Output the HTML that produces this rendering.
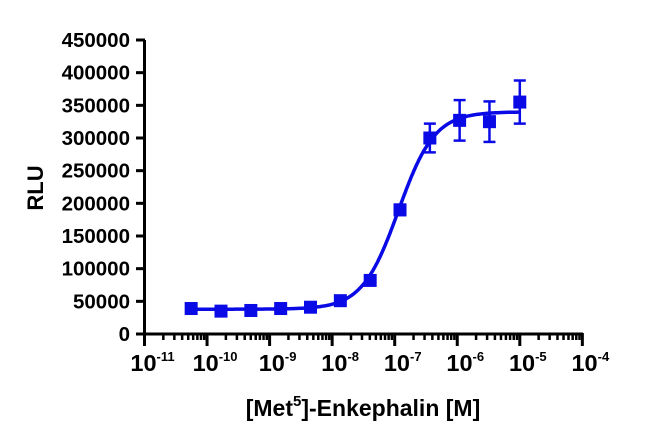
<!DOCTYPE html>
<html><head><meta charset="utf-8"><style>
body{margin:0;background:#fff;width:650px;height:435px;overflow:hidden}
svg text{font-family:"Liberation Sans",Arial,sans-serif;font-weight:bold;fill:#000}
</style></head><body>
<svg id="chart" width="650" height="435" xmlns="http://www.w3.org/2000/svg"></svg>
<script>
const logConc = [-10.254,-9.777,-9.3,-8.823,-8.346,-7.869,-7.392,-6.915,-6.438,-5.962,-5.485,-5.0];
const rluMean = [39000,35000,36000,39000,41000,51000,82000,190000,300000,327000,325000,355000];
const rluErr  = [3000,3000,3000,3000,3000,3000,4000,8000,22000,31000,31000,33000];
const fitBottom = 38000, fitTop = 340000, fitLogEC50 = -6.94, fitHill = 1.5;
const yTicks = [0,50000,100000,150000,200000,250000,300000,350000,400000,450000];
const xDecades = [-11,-10,-9,-8,-7,-6,-5,-4];
const NS='http://www.w3.org/2000/svg';
const svg=document.getElementById('chart');
const X=l=>144.5+(l+11)*62.55;
const Y=v=>334-(v/450000)*294;
function mk(t,a,p){const e=document.createElementNS(NS,t);for(const k in a)e.setAttribute(k,a[k]);(p||svg).appendChild(e);return e;}
let ya=mk('line',{x1:144.5,y1:40,x2:144.5,y2:346,stroke:'#000','stroke-width':3});


let xa=mk('line',{x1:143,y1:334,x2:583,y2:334,stroke:'#000','stroke-width':3});


yTicks.forEach(v=>{
  mk('line',{x1:136,y1:Y(v),x2:145,y2:Y(v),stroke:'#000','stroke-width':3});
  let t=mk('text',{x:130,y:Y(v)+7,'text-anchor':'end','font-size':20.5});
  t.textContent=v;
  
  
});
xDecades.forEach((d,i)=>{
  mk('line',{x1:X(d),y1:333,x2:X(d),y2:346,stroke:'#000','stroke-width':3});
  if(i<xDecades.length-1){for(let m=2;m<=9;m++){const xx=X(d+Math.log10(m));mk('line',{x1:xx,y1:333,x2:xx,y2:340,stroke:'#000','stroke-width':2.5});}}
  let t=mk('text',{x:X(d)+8,y:371,'text-anchor':'middle','font-size':23.5});
  
  
  t.innerHTML='10<tspan dy="-10" font-size="13">'+d+'</tspan>';
});
let yt=mk('text',{x:43,y:188,'text-anchor':'middle','font-size':22,transform:'rotate(-90 43 188)'});
yt.textContent='RLU';


let xt=mk('text',{x:363,y:416,'text-anchor':'middle','font-size':23});


xt.innerHTML='[Met<tspan dy="-10" font-size="15">5</tspan><tspan dy="10">]-Enkephalin [M]</tspan>';
let pts=[];
for(let l=logConc[0];l<=logConc[logConc.length-1]+0.001;l+=0.02){
  const v=fitBottom+(fitTop-fitBottom)/(1+Math.pow(10,(fitLogEC50-l)*fitHill));
  pts.push(X(l).toFixed(1)+','+Y(v).toFixed(1));
}
let c=mk('polyline',{points:pts.join(' '),fill:'none',stroke:'#0a0ae6','stroke-width':3.5});


logConc.forEach((l,i)=>{
  const x=X(l),y=Y(rluMean[i]),e=rluErr[i];
  const g=mk('g',{stroke:'#0a0ae6','stroke-width':2.5});
  
  
  mk('line',{x1:x,y1:Y(rluMean[i]+e),x2:x,y2:Y(rluMean[i]-e)},g);
  mk('line',{x1:x-6,y1:Y(rluMean[i]+e),x2:x+6,y2:Y(rluMean[i]+e)},g);
  mk('line',{x1:x-6,y1:Y(rluMean[i]-e),x2:x+6,y2:Y(rluMean[i]-e)},g);
  let r=mk('rect',{x:x-6.5,y:y-6.5,width:13,height:13,fill:'#0a0ae6'});
  
  
});
</script>
</body></html>
